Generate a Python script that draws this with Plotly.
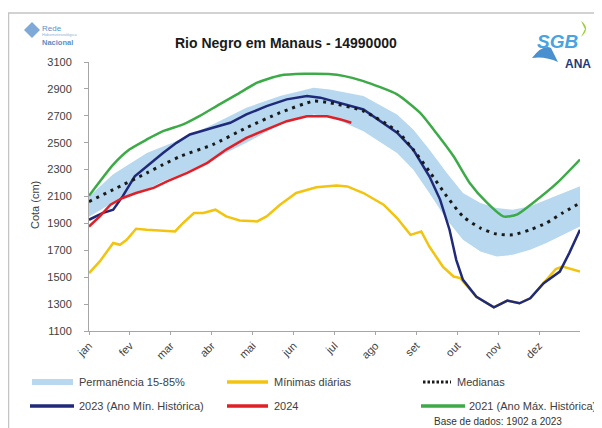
import plotly.graph_objects as go

# ---------------- data (day of year, cota in cm) ----------------
months = ["jan", "fev", "mar", "abr", "mai", "jun", "jul", "ago", "set", "out", "nov", "dez"]

band_days = [0, 18, 43, 55, 68, 92, 117, 142, 167, 179, 204, 229, 241, 253, 266, 278, 291, 303, 315, 328, 340, 352, 365]
band_upper = [2100, 2265, 2424, 2474, 2524, 2636, 2760, 2847, 2909, 2896, 2847, 2710, 2598, 2449, 2275, 2126, 2052, 2015, 2002, 2027, 2077, 2126, 2176]
band_lower = [1950, 2055, 2151, 2213, 2263, 2375, 2499, 2636, 2710, 2697, 2586, 2424, 2300, 2126, 1927, 1778, 1691, 1654, 1666, 1704, 1754, 1815, 1877]

median_days = band_days
median_vals = [2062, 2151, 2275, 2337, 2399, 2486, 2611, 2723, 2809, 2797, 2735, 2586, 2449, 2287, 2101, 1952, 1865, 1821, 1815, 1853, 1903, 1977, 2052]

green_days = [0, 18, 30, 43, 55, 70, 82, 97, 110, 125, 142, 160, 178, 190, 204, 229, 246, 258, 271, 283, 296, 308, 318, 330, 348, 365]
green_vals = [2105, 2337, 2449, 2524, 2586, 2636, 2697, 2785, 2859, 2946, 3000, 3012, 3010, 2995, 2958, 2859, 2723, 2574, 2399, 2201, 2052, 1952, 1965, 2052, 2201, 2375]

blue_days = [0, 10, 18, 25, 34, 43, 55, 65, 75, 92, 105, 117, 132, 147, 162, 172, 179, 204, 229, 241, 253, 261, 268, 273, 278, 288, 301, 311, 320, 328, 338, 350, 357, 365]
blue_vals = [1927, 1977, 2002, 2101, 2250, 2325, 2424, 2499, 2561, 2611, 2648, 2710, 2772, 2822, 2847, 2835, 2817, 2747, 2574, 2449, 2250, 2077, 1853, 1629, 1480, 1355, 1276, 1326, 1306, 1343, 1455, 1542, 1679, 1853]

red_days = [0, 8, 16, 25, 35, 48, 58, 73, 88, 102, 117, 132, 147, 162, 177, 187, 195]
red_vals = [1877, 1952, 2039, 2089, 2126, 2164, 2213, 2275, 2350, 2449, 2536, 2598, 2660, 2697, 2697, 2673, 2648]

yellow_days = [0, 8, 18, 23, 28, 35, 43, 53, 64, 70, 78, 85, 94, 102, 112, 125, 132, 142, 154, 169, 184, 192, 204, 219, 229, 239, 247, 253, 263, 271, 276, 288, 301, 311, 320, 328, 338, 347, 352, 365]
yellow_vals = [1530, 1617, 1754, 1741, 1778, 1860, 1853, 1848, 1840, 1903, 1977, 1977, 2002, 1952, 1922, 1915, 1952, 2039, 2126, 2168, 2181, 2175, 2126, 2039, 1940, 1815, 1840, 1728, 1579, 1505, 1493, 1355, 1276, 1326, 1306, 1343, 1455, 1560, 1579, 1542]

y_ticks = list(range(1100, 3101, 200))

# ---------------- styling ----------------
C_BAND = "rgb(183,216,238)"
C_YEL = "#f2c40f"
C_GRN = "#3daa48"
C_BLU = "#1f2a7a"
C_RED = "#e01f26"
C_MED = "#1a1a1a"
TXT = "#404040"
FONT = "Liberation Sans, Arial, sans-serif"

OFF = 8  # page body margin
W, H = 602 - OFF, 428 - OFF
ML = 89 - OFF
MT = 62 - OFF
MR = W - (580 - OFF)
MB = H - (331 - OFF)
PW, PH = W - ML - MR, H - MT - MB


def PX(px):  # window pixel -> paper x
    return (px - OFF - ML) / PW


def PY(py):  # window pixel -> paper y
    return (H - MB - (py - OFF)) / PH


fig = go.Figure()

fig.add_trace(go.Scatter(x=band_days, y=band_lower, mode="lines", line=dict(width=0, color=C_BAND),
                         hoverinfo="skip", showlegend=False))
fig.add_trace(go.Scatter(x=band_days, y=band_upper, mode="lines", line=dict(width=0, color=C_BAND),
                         fill="tonexty", fillcolor=C_BAND, name="Permanência 15-85%", showlegend=False))
fig.add_trace(go.Scatter(x=yellow_days, y=yellow_vals, mode="lines", line=dict(width=2.5, color=C_YEL),
                         name="Mínimas diárias", showlegend=False))
fig.add_trace(go.Scatter(x=green_days, y=green_vals, mode="lines", line=dict(width=2.5, color=C_GRN, shape="spline", smoothing=0.6),
                         name="2021 (Ano Máx. Histórica)", showlegend=False))
fig.add_trace(go.Scatter(x=blue_days, y=blue_vals, mode="lines", line=dict(width=2.5, color=C_BLU),
                         name="2023 (Ano Mín. Histórica)", showlegend=False))
fig.add_trace(go.Scatter(x=red_days, y=red_vals, mode="lines", line=dict(width=2.5, color=C_RED),
                         name="2024", showlegend=False))
fig.add_trace(go.Scatter(x=median_days, y=median_vals, mode="lines",
                         line=dict(width=3, color=C_MED, dash="3px,5px", shape="spline", smoothing=0.6),
                         name="Medianas", showlegend=False))

shapes = []
annotations = []

# outer frame
shapes.append(dict(type="rect", xref="paper", yref="paper", x0=PX(8.5), x1=PX(615), y0=PY(440), y1=PY(13),
                   line=dict(color="#c4c4c4", width=1.5), fillcolor="rgba(0,0,0,0)", layer="below"))

# title
annotations.append(dict(text="<b>Rio Negro em Manaus - 14990000</b>", xref="paper", yref="paper",
                        x=PX(286), y=PY(33), showarrow=False, font=dict(size=14, color="#1a1a1a", family=FONT)))

# y title
annotations.append(dict(text="Cota (cm)", xref="paper", yref="paper", x=PX(27), y=PY(205), textangle=-90,
                        showarrow=False, font=dict(size=11, color=TXT, family=FONT)))

# manual legend
r1, r2 = 382, 406
leg = [
    ("rect", C_BAND, 32, 73, r1, "Permanência 15-85%", 77),
    ("line", C_YEL, 227, 268, r1, "Mínimas diárias", 272),
    ("dot", C_MED, 423, 451, r1, "Medianas", 455),
    ("line", C_BLU, 30, 74, r2, "2023 (Ano Mín. Histórica)", 77),
    ("line", C_RED, 227, 268, r2, "2024", 272),
    ("line", C_GRN, 421, 465, r2, "2021 (Ano Máx. Histórica)", 467),
]
for kind, col, x0, x1, yy, label, tx in leg:
    if kind == "rect":
        shapes.append(dict(type="rect", xref="paper", yref="paper", x0=PX(x0), x1=PX(x1),
                           y0=PY(yy + 3), y1=PY(yy - 3), fillcolor=col, line=dict(width=0)))
    elif kind == "line":
        shapes.append(dict(type="line", xref="paper", yref="paper", x0=PX(x0), x1=PX(x1),
                           y0=PY(yy), y1=PY(yy), line=dict(color=col, width=3.5)))
    else:
        shapes.append(dict(type="line", xref="paper", yref="paper", x0=PX(x0), x1=PX(x1),
                           y0=PY(yy), y1=PY(yy), line=dict(color=col, width=3, dash="2.5px,2px")))
    annotations.append(dict(text=label, xref="paper", yref="paper", x=PX(tx), y=PY(yy), xanchor="left",
                            yanchor="middle", showarrow=False, font=dict(size=11, color=TXT, family=FONT)))

annotations.append(dict(text="Base de dados: 1902 a 2023", xref="paper", yref="paper", x=PX(432), y=PY(422),
                        xanchor="left", yanchor="middle", showarrow=False,
                        font=dict(size=10, color="#333333", family=FONT)))

# logos (approximated with text and simple shapes)
shapes.append(dict(type="path", xref="paper", yref="paper",
                   path=f"M {PX(24)} {PY(30)} L {PX(32)} {PY(22)} L {PX(40)} {PY(30)} L {PX(32)} {PY(38)} Z",
                   fillcolor="#7fa9d6", line=dict(width=0)))
annotations.append(dict(text="Rede", xref="paper", yref="paper", x=PX(40), y=PY(22), xanchor="left",
                        showarrow=False, font=dict(size=8, color="#5b8fc7", family=FONT)))
annotations.append(dict(text="Hidrometeorológica", xref="paper", yref="paper", x=PX(40), y=PY(29.5), xanchor="left",
                        showarrow=False, font=dict(size=4, color="#8fb3db", family=FONT)))
annotations.append(dict(text="<b>Nacional</b>", xref="paper", yref="paper", x=PX(40), y=PY(36), xanchor="left",
                        showarrow=False, font=dict(size=7.5, color="#5b8fc7", family=FONT)))
annotations.append(dict(text="<b><i>SGB</i></b>", xref="paper", yref="paper", x=PX(580), y=PY(29), xanchor="right",
                        showarrow=False, font=dict(size=19, color="#49a3e0", family=FONT)))
annotations.append(dict(text="<b>ANA</b>", xref="paper", yref="paper", x=PX(593), y=PY(55), xanchor="right",
                        showarrow=False, font=dict(size=12, color="#1e3a78", family=FONT)))
shapes.append(dict(type="path", xref="paper", yref="paper",
                   path=f"M {PX(532)} {PY(58)} Q {PX(543)} {PY(44)} {PX(551)} {PY(48)} L {PX(558)} {PY(62)} Q {PX(545)} {PY(56)} {PX(532)} {PY(58)} Z",
                   fillcolor="#4a8fd0", line=dict(width=0)))
shapes.append(dict(type="path", xref="paper", yref="paper",
                   path=f"M {PX(581)} {PY(21)} Q {PX(591)} {PY(28)} {PX(581)} {PY(37)} L {PX(585)} {PY(29)} Z",
                   fillcolor="#9acd32", line=dict(width=0)))

fig.update_layout(
    width=W, height=H,
    margin=dict(l=ML, r=MR, t=MT, b=MB),
    paper_bgcolor="white", plot_bgcolor="white",
    font=dict(family=FONT, size=11, color=TXT),
    showlegend=False,
    shapes=shapes,
    annotations=annotations,
)
fig.update_xaxes(range=[0, 365], tickvals=[k * 365 / 12 for k in range(12)], ticktext=months,
                 tickangle=-45, showline=True, linecolor="#a6a6a6", linewidth=1, ticks="outside",
                 ticklen=3, tickcolor="#a6a6a6", showgrid=False, zeroline=False,
                 tickfont=dict(size=11, color=TXT, family=FONT), fixedrange=True)
fig.update_yaxes(range=[1100, 3100], tickvals=y_ticks, showline=True, linecolor="#a6a6a6", linewidth=1,
                 ticks="outside", ticklen=4, tickcolor="#a6a6a6", showgrid=False, zeroline=False,
                 tickfont=dict(size=11, color=TXT, family=FONT), ticklabelstandoff=10, fixedrange=True)

fig.write_html("out.html")
